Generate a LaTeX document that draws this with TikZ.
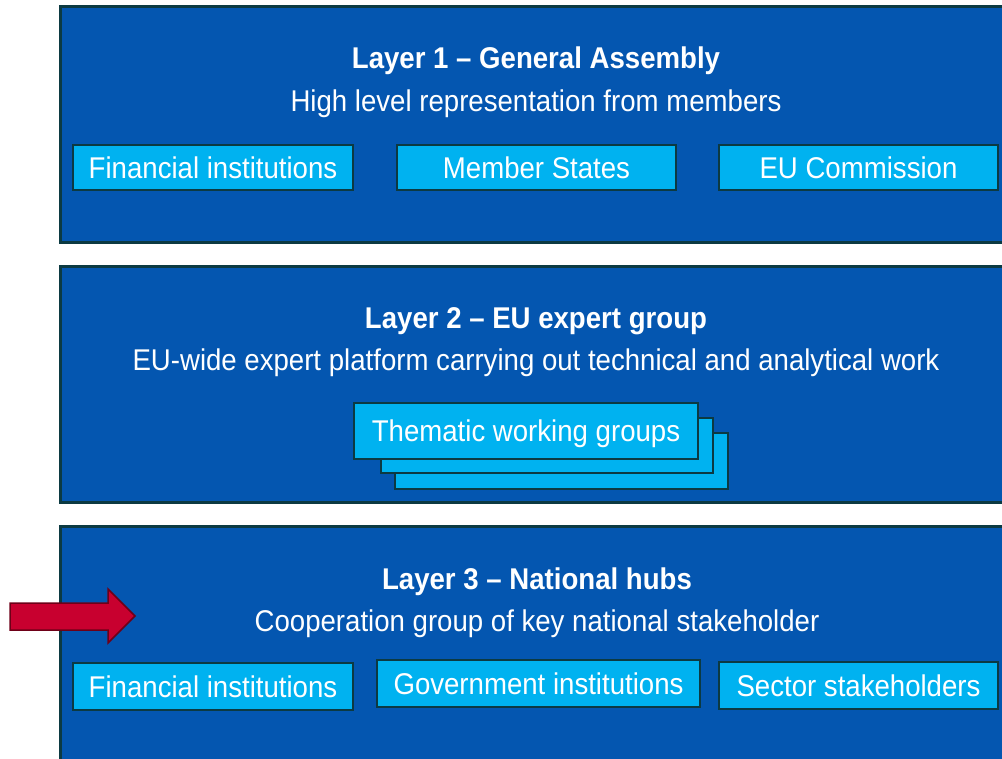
\documentclass[tikz,border=0pt]{standalone}
\usepackage{fontspec}
\newfontfamily\diagfont{Liberation Sans}[FakeStretch=0.92, Ligatures=TeX]
\definecolor{panelblue}{RGB}{4,86,176}
\definecolor{boxblue}{RGB}{0,178,240}
\definecolor{edge}{RGB}{12,58,66}
\definecolor{arrowred}{RGB}{200,0,47}
\definecolor{arrowedge}{RGB}{110,0,24}
\tikzset{
	panel/.style={draw=edge, line width=3pt, fill=panelblue, minimum width=952pt, inner sep=0pt},
	member/.style={draw=edge, line width=2pt, fill=boxblue, text=white, inner sep=0pt,
		text height=21.5pt, text depth=0pt},
	heading/.style={text=white, anchor=base, inner sep=0pt, font=\diagfont\bfseries\fontsize{30}{36}\selectfont},
	caption/.style={text=white, anchor=base, inner sep=0pt, font=\diagfont\fontsize{30}{36}\selectfont},
}
\begin{document}
\begin{tikzpicture}[x=1pt, y=-1pt, font=\diagfont\fontsize{30}{36}\selectfont]
	\useasboundingbox (0,0) rectangle (1002,759);
	\clip (0,0) rectangle (1002,759);
	% layer 1
	\node[panel, minimum height=236pt] (l1) at (536,125) {};
	\node[heading] (t1) at (536,69) {Layer 1 -- General Assembly};
	\node[caption] (s1) at (536,112) {High level representation from members};
	\node[member, minimum width=280pt, minimum height=45pt] (fin1) at (213,167.5) {Financial institutions};
	\node[member, minimum width=279pt, minimum height=45pt] (ms) at (536.5,167.5) {Member States};
	\node[member, minimum width=279pt, minimum height=45pt] (ec) at (858.5,167.5) {EU Commission};
	% layer 2
	\node[panel, minimum height=235pt] (l2) at (536,384.5) {};
	\node[heading] (t2) at (536,329) {Layer 2 -- EU expert group};
	\node[caption] (s2) at (536,371) {EU-wide expert platform carrying out technical and analytical work};
	\node[member, minimum width=333pt, minimum height=56pt] (twg3) at (561.5,461) {};
	\node[member, minimum width=332pt, minimum height=55pt] (twg2) at (547,445.5) {};
	\node[member, minimum width=344pt, minimum height=56pt] (twg) at (526,431) {Thematic working groups};
	% layer 3
	\node[panel, minimum height=236pt] (l3) at (536,644) {};
	\node[heading] (t3) at (537,589) {Layer 3 -- National hubs};
	\node[caption] (s3) at (537,631) {Cooperation group of key national stakeholder};
	\node[member, minimum width=280pt, minimum height=47pt] (fin3) at (213,686.5) {Financial institutions};
	\node[member, minimum width=323pt, minimum height=47pt] (gov) at (538.5,683.5) {Government institutions};
	\node[member, minimum width=279pt, minimum height=47pt] (sec) at (858.5,685.5) {Sector stakeholders};
	% pointer
	\draw[arrowedge, fill=arrowred, line width=1.5pt, line join=miter]
		(10,603) -- (108,603) -- (108,589) -- (135,616) -- (108,643) -- (108,630) -- (10,630) -- cycle;
\end{tikzpicture}
\end{document}
